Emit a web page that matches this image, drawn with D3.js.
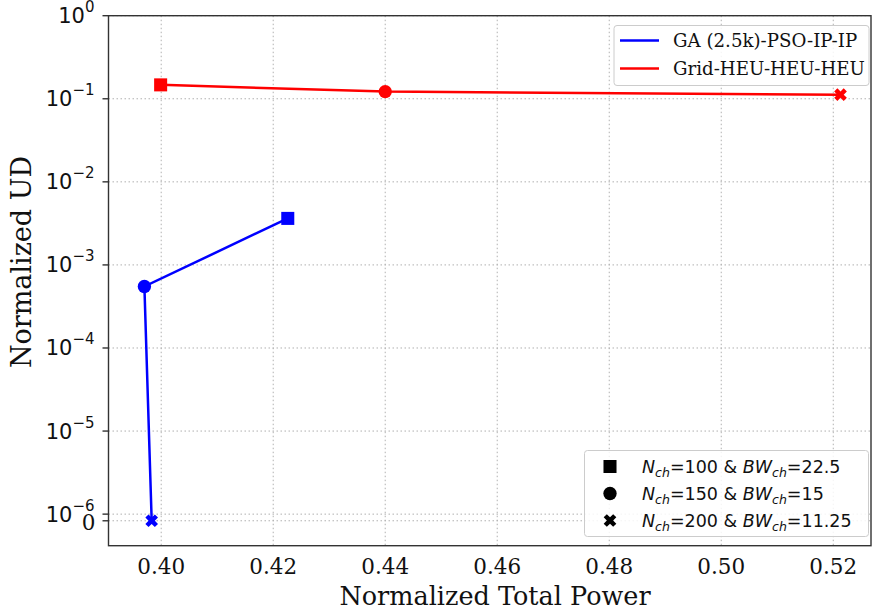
<!DOCTYPE html>
<html><head><meta charset="utf-8">
<script src="https://cdn.jsdelivr.net/npm/d3@7"></script>
<style>html,body{margin:0;padding:0;background:#fff;}svg{display:block;}</style>
</head><body>
<svg id="c" width="872" height="612"></svg>
<script>
// ---- data ----
const seriesNames = ["GA (2.5k)-PSO-IP-IP", "Grid-HEU-HEU-HEU"];
const seriesColors = ["#0000ff", "#ff0000"];
const gaPower = [0.4226, 0.3970, 0.3983];
const gaUD = [0.00363, 0.00055, 0];
const gridPower = [0.3999, 0.4400, 0.5213];
const gridUD = [0.147, 0.122, 0.112];
const markerNames = ["square", "circle", "x"];
const configLabels = [["100", "22.5"], ["150", "15"], ["200", "11.25"]];
const xTicks = [0.40, 0.42, 0.44, 0.46, 0.48, 0.50, 0.52];
const yTickExps = [0, -1, -2, -3, -4, -5, -6];

const svg = d3.select("#c");
const L = 108.5, R = 871, T = 15.7, B = 545.7;
const linthresh = 1e-6, linscale = 0.08;
function tr(v) {
  const a = Math.abs(v), s = v < 0 ? -1 : 1;
  if (a <= linthresh) return v / linthresh * linscale;
  return s * (linscale + Math.log10(a / linthresh));
}
const x = d3.scaleLinear().domain([0.39059, 0.52674]).range([L, R]);
const yT = d3.scaleLinear().domain([-0.30, tr(1)]).range([B, T]);
const y = v => yT(tr(v));

// grid
const g = svg.append("g");
xTicks.forEach(t => g.append("line").attr("x1", x(t)).attr("x2", x(t)).attr("y1", T).attr("y2", B)
  .attr("stroke", "#b0b0b0").attr("stroke-width", 1).attr("stroke-dasharray", "1.5,2.5"));
const yTickVals = yTickExps.map(e => Math.pow(10, e)).concat([0]);
yTickVals.forEach(v => g.append("line").attr("x1", L).attr("x2", R).attr("y1", y(v)).attr("y2", y(v))
  .attr("stroke", "#b0b0b0").attr("stroke-width", 1).attr("stroke-dasharray", "1.5,2.5"));

// spines
svg.append("rect").attr("x", L).attr("y", T).attr("width", R - L).attr("height", B - T)
  .attr("fill", "none").attr("stroke", "#333").attr("stroke-width", 1.4);

// x tick labels
xTicks.forEach(t => svg.append("text").attr("x", x(t)).attr("y", B + 28).attr("text-anchor", "middle")
  .attr("font-family", "DejaVu Serif").attr("font-size", 21.5).attr("fill", "#111").text(t.toFixed(2)));

// y ticks
yTickVals.forEach(v => svg.append("line").attr("x1", L - 6).attr("x2", L).attr("y1", y(v)).attr("y2", y(v))
  .attr("stroke", "#333").attr("stroke-width", 1.4));
yTickExps.forEach(e => {
  const t = svg.append("text").attr("x", L - 14).attr("y", y(Math.pow(10, e)) + 7.5).attr("text-anchor", "end")
    .attr("font-family", "DejaVu Sans").attr("font-size", 21).attr("fill", "#111");
  t.append("tspan").text("10");
  t.append("tspan").attr("dy", -11).attr("font-size", 15).text(e === 0 ? "0" : "\u2212" + (-e));
});
svg.append("text").attr("x", L - 13).attr("y", y(0) + 9.5).attr("text-anchor", "end")
  .attr("font-family", "DejaVu Serif").attr("font-size", 21.5).attr("fill", "#111").text("0");

// axis labels
svg.append("text").attr("x", 495).attr("y", 605).attr("text-anchor", "middle")
  .attr("font-family", "DejaVu Serif").attr("font-size", 25.5).attr("fill", "#111").text("Normalized Total Power");
svg.append("text").attr("transform", "translate(31," + 262 + ") rotate(-90)").attr("text-anchor", "middle")
  .attr("font-family", "DejaVu Serif").attr("font-size", 27).attr("fill", "#111").text("Normalized UD");

// symbols
function sym(name) {
  if (name === "square") return d3.symbol(d3.symbolSquare, 170)();
  if (name === "circle") return d3.symbol(d3.symbolCircle, 140)();
  return d3.symbol(d3.symbolCross, 100)();
}
function drawMarker(sel, name, cx, cy, color) {
  sel.append("path").attr("d", sym(name))
    .attr("transform", "translate(" + cx + "," + cy + ")" + (name === "x" ? " rotate(45)" : ""))
    .attr("fill", color).attr("stroke", "none");
}

const series = [[gaPower, gaUD], [gridPower, gridUD]];
const line = d3.line().x(d => x(d[0])).y(d => y(d[1]));
series.forEach((s, i) => {
  const pts = s[0].map((p, j) => [p, s[1][j]]);
  svg.append("path").datum(pts).attr("d", line).attr("fill", "none")
    .attr("stroke", seriesColors[i]).attr("stroke-width", 2.5);
  pts.forEach((p, j) => drawMarker(svg, markerNames[j], x(p[0]), y(p[1]), seriesColors[i]));
});

// legend 1
const lg1 = svg.append("g");
lg1.append("rect").attr("x", 614).attr("y", 25.5).attr("width", 255).attr("height", 60).attr("rx", 3)
  .attr("fill", "#fff").attr("fill-opacity", 0.85).attr("stroke", "#ccc").attr("stroke-width", 1);
seriesNames.forEach((n, i) => {
  const yy = 40.5 + i * 28;
  lg1.append("line").attr("x1", 620).attr("x2", 659).attr("y1", yy).attr("y2", yy)
    .attr("stroke", seriesColors[i]).attr("stroke-width", 2.5);
  lg1.append("text").attr("x", 673).attr("y", yy + 6.5).attr("font-family", "DejaVu Serif")
    .attr("font-size", 18.2).attr("fill", "#111").text(n);
});

// legend 2
const lg2 = svg.append("g");
lg2.append("rect").attr("x", 584.5).attr("y", 450.5).attr("width", 284).attr("height", 86).attr("rx", 3)
  .attr("fill", "#fff").attr("fill-opacity", 0.85).attr("stroke", "#ccc").attr("stroke-width", 1);
markerNames.forEach((m, i) => {
  const yy = 466.5 + i * 27;
  drawMarker(lg2, m, 610, yy, "#000");
  const t = lg2.append("text").attr("x", 642).attr("y", yy + 6.5).attr("font-family", "DejaVu Sans")
    .attr("font-size", 17.5).attr("fill", "#111");
  t.append("tspan").attr("font-style", "italic").text("N");
  t.append("tspan").attr("font-style", "italic").attr("font-size", 12.5).attr("dy", 4).text("ch");
  t.append("tspan").attr("dy", -4).text("=" + configLabels[i][0] + " & ");
  t.append("tspan").attr("font-style", "italic").text("BW");
  t.append("tspan").attr("font-style", "italic").attr("font-size", 12.5).attr("dy", 4).text("ch");
  t.append("tspan").attr("dy", -4).text("=" + configLabels[i][1]);
});
</script>
</body></html>
